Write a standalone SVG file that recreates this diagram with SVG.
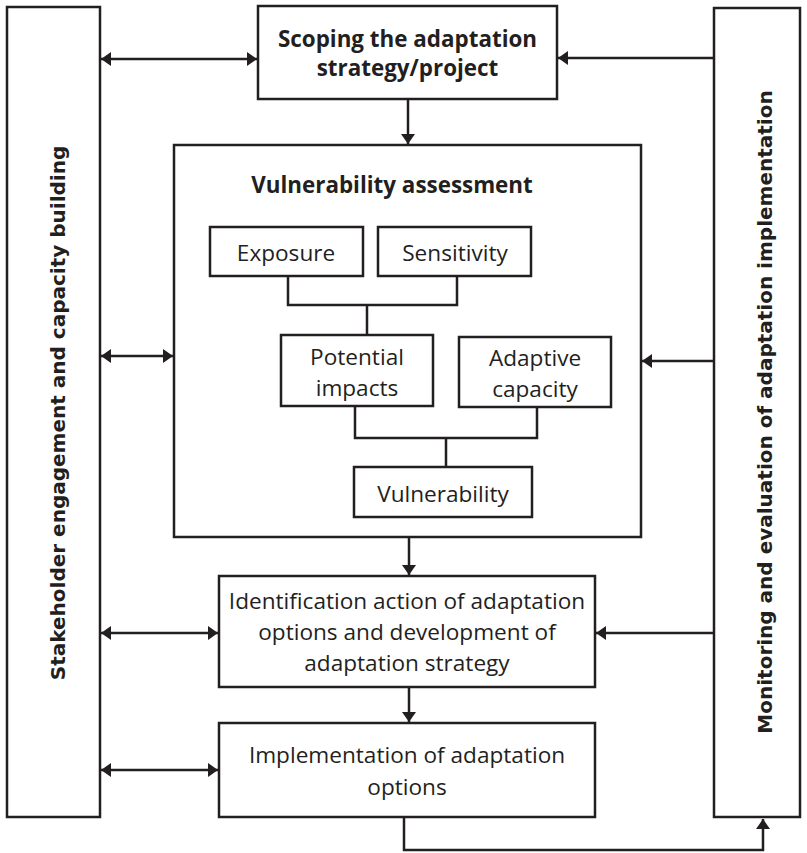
<svg xmlns="http://www.w3.org/2000/svg" width="807" height="853" viewBox="0 0 807 853">
<defs>
<marker id="ah" viewBox="0 0 10 14" refX="10" refY="7" markerWidth="10" markerHeight="14" markerUnits="userSpaceOnUse" orient="auto-start-reverse">
<path d="M0,0 L10,7 L0,14 z" fill="#231f20"/>
</marker>
<style>
.box{fill:#fff;stroke:#231f20;stroke-width:2.5}
.ln{fill:none;stroke:#231f20;stroke-width:2.5}
.t{font-family:"Open Sans","Liberation Sans",sans-serif;font-size:22.6px;fill:#231f20;text-anchor:middle}
.b{font-family:"Open Sans","Liberation Sans",sans-serif;font-weight:bold;font-size:22.4px;fill:#231f20;text-anchor:middle}
.v{font-family:"DejaVu Sans",sans-serif;font-weight:bold;font-size:20px;fill:#231f20;text-anchor:middle}
</style>
</defs>
<rect width="807" height="853" fill="#fff"/>
<g id="stakeholder"><rect class="box" x="7" y="7" width="93" height="810"/><text class="v" transform="translate(65,413) rotate(-90)">Stakeholder engagement and capacity building</text></g>
<g id="monitoring"><rect class="box" x="714" y="8" width="86" height="809"/><text class="v" transform="translate(772,412) rotate(-90)">Monitoring and evaluation of adaptation implementation</text></g>
<g id="scoping"><rect class="box" x="258" y="6" width="299" height="93"/><text class="b" x="407.5" y="47">Scoping the adaptation</text><text class="b" x="407.5" y="76">strategy/project</text></g>
<g id="assessment"><rect class="box" x="174" y="145" width="467" height="392"/><text class="b" x="392" y="193">Vulnerability assessment</text></g>
<g id="exposure"><rect class="box" x="210" y="227" width="153" height="49"/><text class="t" x="286" y="261">Exposure</text></g>
<g id="sensitivity"><rect class="box" x="378" y="227" width="153" height="49"/><text class="t" x="455" y="261">Sensitivity</text></g>
<g id="potential"><rect class="box" x="281" y="335" width="152" height="71"/><text class="t" x="357" y="365">Potential</text><text class="t" x="357" y="396">impacts</text></g>
<g id="adaptive"><rect class="box" x="459" y="337" width="152" height="70"/><text class="t" x="535" y="366">Adaptive</text><text class="t" x="535" y="397">capacity</text></g>
<g id="vulnerability"><rect class="box" x="354" y="467" width="178" height="50"/><text class="t" x="443" y="502">Vulnerability</text></g>
<g id="identification"><rect class="box" x="219" y="576" width="376" height="111"/><text class="t" x="407" y="609">Identification action of adaptation</text><text class="t" x="407" y="640">options and development of</text><text class="t" x="407" y="671">adaptation strategy</text></g>
<g id="implementation"><rect class="box" x="219" y="723" width="376" height="94"/><text class="t" x="407" y="763">Implementation of adaptation</text><text class="t" x="407" y="795">options</text></g>
<g id="connectors">
<line class="ln" x1="101" y1="59" x2="257" y2="59" marker-start="url(#ah)" marker-end="url(#ah)"/>
<line class="ln" x1="714" y1="58" x2="558" y2="58" marker-end="url(#ah)"/>
<line class="ln" x1="408" y1="100" x2="408" y2="144" marker-end="url(#ah)"/>
<line class="ln" x1="101" y1="356" x2="173" y2="356" marker-start="url(#ah)" marker-end="url(#ah)"/>
<line class="ln" x1="714" y1="361" x2="642" y2="361" marker-end="url(#ah)"/>
<line class="ln" x1="409" y1="538" x2="409" y2="575" marker-end="url(#ah)"/>
<line class="ln" x1="101" y1="633" x2="218" y2="633" marker-start="url(#ah)" marker-end="url(#ah)"/>
<line class="ln" x1="714" y1="633" x2="596" y2="633" marker-end="url(#ah)"/>
<line class="ln" x1="409" y1="688" x2="409" y2="722" marker-end="url(#ah)"/>
<line class="ln" x1="101" y1="770" x2="218" y2="770" marker-start="url(#ah)" marker-end="url(#ah)"/>
<path class="ln" d="M404,818 V850 H763 V819" marker-end="url(#ah)"/>
<path class="ln" d="M288,276 V305 H457 V276 M367,305 V335"/>
<path class="ln" d="M355,406 V438 H537 V407 M446,438 V467"/>
</g>
</svg>
